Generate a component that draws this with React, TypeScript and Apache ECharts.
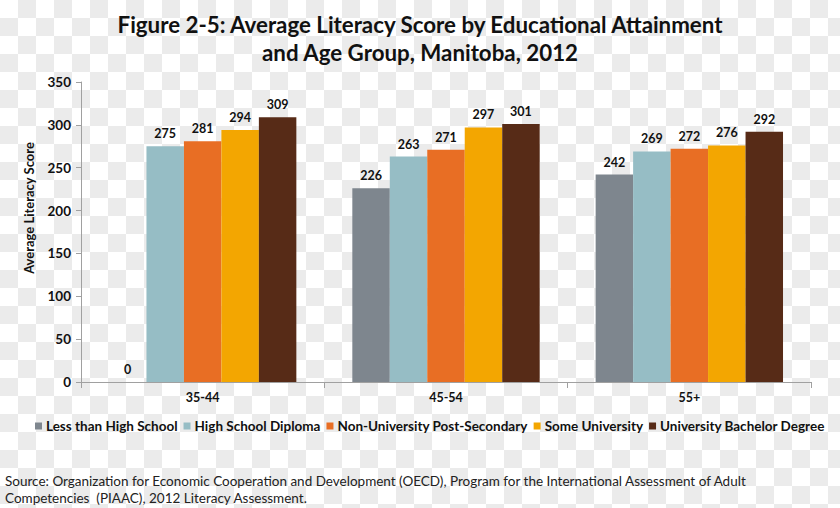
import React, { useEffect, useRef } from "react";
import * as echarts from "echarts";

const categories = ["35-44", "45-54", "55+"];
const seriesNames = [
  "Less than High School",
  "High School Diploma",
  "Non-University Post-Secondary",
  "Some University",
  "University Bachelor Degree",
];
const lessThanHighSchool = [0, 226, 242];
const highSchoolDiploma = [275, 263, 269];
const nonUniversityPostSecondary = [281, 271, 272];
const someUniversity = [294, 297, 276];
const universityBachelor = [309, 301, 292];
const colors = ["#7e868e", "#96bdc5", "#e86e24", "#f3a601", "#572b17"];
const yTicks = { min: 0, max: 350, interval: 50 };

const titleText =
  "Figure 2-5: Average Literacy Score by Educational Attainment\nand Age Group, Manitoba, 2012";
const sourceLine1 =
  "Source: Organization for Economic Cooperation and Development (OECD), Program for the International Assessment of Adult";
const sourceLine2 = "Competencies  (PIAAC), 2012 Literacy Assessment.";

const FONT = "Lato, 'Open Sans', sans-serif";

export default function App() {
  const ref = useRef<HTMLDivElement>(null);
  useEffect(() => {
    if (!ref.current) return;
    const chart = echarts.init(ref.current, null, { renderer: "svg" });
    const data = [
      lessThanHighSchool,
      highSchoolDiploma,
      nonUniversityPostSecondary,
      someUniversity,
      universityBachelor,
    ];
    chart.setOption({
      animation: false,
      backgroundColor: "transparent",
      title: {
        text: titleText,
        left: "center",
        top: 5,
        textStyle: {
          fontFamily: FONT,
          fontWeight: "bold",
          fontSize: 22.3,
          lineHeight: 28,
          color: "#111",
        },
      },
      legend: {
        left: 30,
        top: 414,
        width: 810,
        icon: "rect",
        itemWidth: 7,
        itemHeight: 7,
        itemGap: 6,
        textStyle: {
          fontFamily: FONT,
          fontWeight: "bold",
          fontSize: 13.5,
          color: "#111",
          padding: [0, 0, 0, -1],
        },
        data: seriesNames,
      },
      grid: { left: 81, right: 29, top: 82, bottom: 126, containLabel: false },
      xAxis: {
        type: "category",
        data: categories,
        axisLine: { lineStyle: { color: "#a0a0a0" } },
        axisTick: { show: true, length: 6, lineStyle: { color: "#a0a0a0" } },
        axisLabel: {
          fontFamily: FONT,
          fontWeight: "bold",
          fontSize: 12.5,
          color: "#111",
          margin: 9,
        },
      },
      yAxis: {
        type: "value",
        min: yTicks.min,
        max: yTicks.max,
        interval: yTicks.interval,
        axisLine: { show: true, lineStyle: { color: "#a0a0a0" } },
        axisTick: { show: true, length: 5, lineStyle: { color: "#a0a0a0" } },
        splitLine: { show: false },
        axisLabel: {
          fontFamily: FONT,
          fontWeight: "bold",
          fontSize: 13.5,
          color: "#111",
          margin: 10,
        },
      },
      graphic: [
        {
          type: "text",
          x: 29,
          y: 208,
          rotation: Math.PI / 2,
          style: {
            text: "Average Literacy Score",
            font: "bold 13px Lato, 'Open Sans', sans-serif",
            fill: "#111",
            align: "center",
            verticalAlign: "middle",
          },
        },
        {
          type: "text",
          x: 5,
          y: 481,
          style: {
            text: sourceLine1,
            font: "13.5px Lato, 'Open Sans', sans-serif",
            fill: "#222",
            verticalAlign: "middle",
          },
        },
        {
          type: "text",
          x: 5,
          y: 498,
          style: {
            text: sourceLine2,
            font: "13.5px Lato, 'Open Sans', sans-serif",
            fill: "#222",
            verticalAlign: "middle",
          },
        },
      ],
      series: seriesNames.map((name, i) => ({
        name,
        type: "bar",
        data: data[i],
        barGap: "0%",
        barCategoryGap: "23%",
        itemStyle: { color: colors[i] },
        label: {
          show: true,
          position: "top",
          distance: 6,
          fontFamily: FONT,
          fontWeight: "bold",
          fontSize: 12.5,
          color: "#111",
        },
      })),
    });
    return () => chart.dispose();
  }, []);

  return (
    <div
      style={{
        position: "fixed",
        left: 0,
        top: 0,
        width: 840,
        height: 508,
        backgroundColor: "#ffffff",
        backgroundImage:
          "conic-gradient(#ebebeb 25%, #ffffff 0 50%, #ebebeb 0 75%, #ffffff 0)",
        backgroundSize: "36px 36px",
        backgroundPosition: "0 0",
      }}
    >
      <div ref={ref} style={{ width: 840, height: 508 }} />
    </div>
  );
}
